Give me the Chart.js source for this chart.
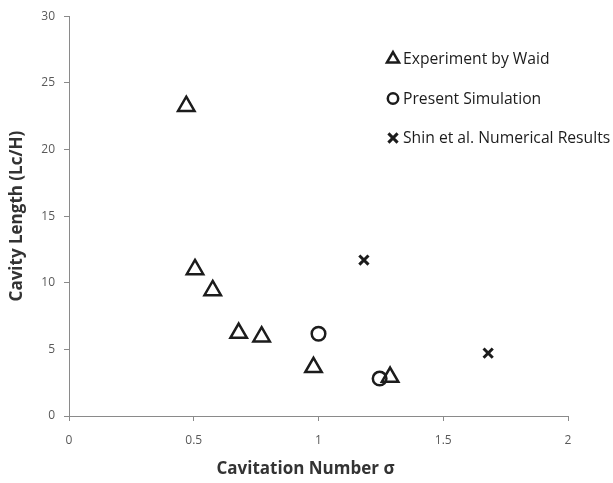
<!DOCTYPE html>
<html>
<head>
<meta charset="utf-8">
<script src="https://cdn.jsdelivr.net/npm/chart.js@4"></script>
<style>
html, body { margin: 0; padding: 0; background: #fff; }
</style>
</head>
<body>
<canvas id="myChart" width="613" height="483"></canvas>
<script>
// values
const waidSigma = [0.47, 0.505, 0.576, 0.68, 0.772, 0.98, 1.287];
const waidLength = [23.25, 11.0, 9.42, 6.22, 5.95, 3.65, 2.92];
const simSigma = [1.0, 1.245];
const simLength = [6.17, 2.81];
const shinSigma = [1.182, 1.68];
const shinLength = [11.7, 4.72];
const xTicks = [0, 0.5, 1, 1.5, 2];
const yTicks = [0, 5, 10, 15, 20, 25, 30];
const xTitle = 'Cavitation Number σ';
const yTitle = 'Cavity Length (Lc/H)';

const ink = '#1c1c1c';
const axisColor = '#8a8a8a';
const tickColor = '#595959';
const titleColor = '#333333';
const family = '"Open Sans", sans-serif';

function toPoints(xs, ys) {
    return xs.map(function (x, i) {
        return { x: x, y: ys[i] };
    });
}

// legend drawn inside the plot, top right, plus the x title
// (it sits a little left of the axis centre in the original)
const extras = {
    id: 'extras',
    afterDraw: function (chart) {
        const ctx = chart.ctx;
        ctx.save();
        ctx.font = '15.7px ' + family;
        ctx.textBaseline = 'middle';
        chart.data.datasets.forEach(function (ds, i) {
            const y = 59 + i * 39.5;
            ctx.strokeStyle = ds.borderColor;
            ctx.fillStyle = 'rgba(0,0,0,0)';
            ctx.lineWidth = ds.borderWidth;
            Chart.helpers.drawPoint(ctx, {
                pointStyle: ds.pointStyle,
                rotation: 0,
                radius: ds.legendRadius,
                borderWidth: ds.borderWidth
            }, 393, y);
            ctx.fillStyle = ink;
            ctx.fillText(ds.label, 403, y + 1);
        });

        const area = chart.chartArea;
        ctx.font = 'bold 17px ' + family;
        ctx.fillStyle = titleColor;
        ctx.textAlign = 'center';
        ctx.fillText(xTitle, (area.left + area.right) / 2 - 13, 469);
        ctx.restore();
    }
};

const ctx = document.getElementById('myChart').getContext('2d');

new Chart(ctx, {
    type: 'scatter',
    data: {
        datasets: [{
            label: 'Experiment by Waid',
            data: toPoints(waidSigma, waidLength),
            pointStyle: 'triangle',
            pointRadius: 9.5,
            borderWidth: 2.5,
            borderColor: ink,
            backgroundColor: 'rgba(0,0,0,0)',
            legendRadius: 7
        }, {
            label: 'Present Simulation',
            data: toPoints(simSigma, simLength),
            pointStyle: 'circle',
            pointRadius: 6.8,
            borderWidth: 2.5,
            borderColor: ink,
            backgroundColor: 'rgba(0,0,0,0)',
            legendRadius: 5.2
        }, {
            label: 'Shin et al. Numerical Results',
            data: toPoints(shinSigma, shinLength),
            pointStyle: 'crossRot',
            pointRadius: 6.5,
            borderWidth: 3,
            borderColor: ink,
            backgroundColor: 'rgba(0,0,0,0)',
            legendRadius: 6.5
        }]
    },
    options: {
        responsive: false,
        animation: false,
        layout: {
            padding: { top: 14, right: 45, left: 0, bottom: 0 }
        },
        plugins: {
            legend: { display: false },
            tooltip: { enabled: false }
        },
        scales: {
            x: {
                type: 'linear',
                min: xTicks[0],
                max: xTicks[xTicks.length - 1],
                afterFit: function (scale) { scale.height = 67; },
                afterBuildTicks: function (scale) {
                    scale.ticks = xTicks.map(function (v) { return { value: v }; });
                },
                grid: {
                    drawOnChartArea: false,
                    tickLength: 5,
                    color: axisColor
                },
                border: { color: axisColor, width: 1 },
                ticks: {
                    padding: 12,
                    color: tickColor,
                    font: { family: family, size: 12 },
                    callback: function (v) { return String(v); }
                },
                title: { display: false }
            },
            y: {
                type: 'linear',
                min: yTicks[0],
                max: yTicks[yTicks.length - 1],
                afterFit: function (scale) { scale.width = 69; },
                afterBuildTicks: function (scale) {
                    scale.ticks = yTicks.map(function (v) { return { value: v }; });
                },
                grid: {
                    drawOnChartArea: false,
                    tickLength: 5,
                    color: axisColor
                },
                border: { color: axisColor, width: 1 },
                ticks: {
                    padding: 9,
                    color: tickColor,
                    font: { family: family, size: 12 },
                    callback: function (v) { return String(v); }
                },
                title: {
                    display: true,
                    text: yTitle,
                    color: titleColor,
                    font: { family: family, size: 17, weight: 'bold' },
                    padding: { top: 7, bottom: 0 }
                }
            }
        }
    },
    plugins: [extras]
});
</script>
</body>
</html>
